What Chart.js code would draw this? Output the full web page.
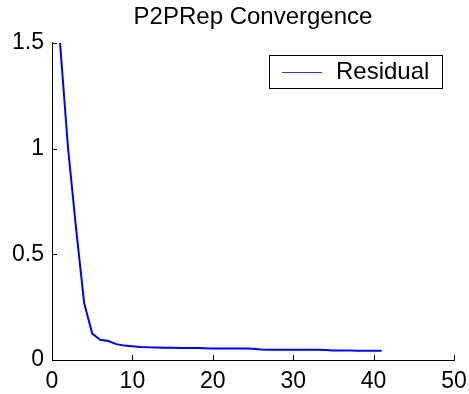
<!DOCTYPE html>
<html lang="en">
<head>
<meta charset="UTF-8">
<title>P2PRep Convergence</title>
<script src="https://cdn.jsdelivr.net/npm/chart.js"></script>
<style>
  body { margin: 0; background: #fff; }
  #wrap { width: 469px; height: 394px; }
</style>
</head>
<body>
<div id="wrap"><canvas id="grafico"></canvas></div>
<script>
// iteration number and residual
const iterations = [1, 2, 3, 4, 5, 6, 7, 8, 9, 10,
                    11, 12, 13, 14, 15, 16, 17, 18, 19, 20,
                    21, 22, 23, 24, 25, 26, 27, 28, 29, 30,
                    31, 32, 33, 34, 35, 36, 37, 38, 39, 40, 41];
const residual = [1.5, 1.0, 0.62, 0.27, 0.125, 0.096, 0.090, 0.075, 0.068, 0.065,
                  0.062, 0.060, 0.059, 0.058, 0.058, 0.057, 0.057, 0.057, 0.055, 0.054,
                  0.054, 0.054, 0.054, 0.054, 0.053, 0.050, 0.049, 0.049, 0.049, 0.049,
                  0.049, 0.049, 0.048, 0.047, 0.045, 0.045, 0.045, 0.044, 0.044, 0.044, 0.044];
const xTicks = [0, 10, 20, 30, 40, 50];
const yTicks = [0, 0.5, 1, 1.5];
const seriesName = 'Residual';
const chartTitle = 'P2PRep Convergence';

const FONT = 'Liberation Sans, Arial, Helvetica, sans-serif';

// matlab style ticks pointing into the plot
const inwardTicks = {
    id: 'inwardTicks',
    afterDatasetsDraw(chart) {
        const { ctx, scales: { x, y } } = chart;
        ctx.save();
        ctx.strokeStyle = '#000';
        ctx.lineWidth = 1;
        ctx.beginPath();
        x.ticks.forEach(t => {
            const px = Math.round(x.getPixelForValue(t.value)) + 0.5;
            ctx.moveTo(px, y.bottom);
            ctx.lineTo(px, y.bottom - 5);
        });
        y.ticks.forEach(t => {
            const py = Math.round(y.getPixelForValue(t.value)) + 0.5;
            ctx.moveTo(x.left, py);
            ctx.lineTo(x.left + 5, py);
        });
        ctx.stroke();
        ctx.restore();
    }
};

// boxed legend inside the plot, top right
const boxLegend = {
    id: 'boxLegend',
    afterDraw(chart) {
        const { ctx, chartArea } = chart;
        const ds = chart.data.datasets[0];
        const w = 173, h = 33;
        const left = Math.round(chartArea.right - 12 - w);
        const top = Math.round(chartArea.top + 12);
        const midY = top + h / 2;
        ctx.save();
        ctx.fillStyle = '#fff';
        ctx.fillRect(left, top, w, h);
        ctx.strokeStyle = '#000';
        ctx.lineWidth = 1;
        ctx.strokeRect(left + 0.5, top + 0.5, w, h);
        ctx.strokeStyle = ds.borderColor;
        ctx.globalAlpha = 0.8;
        ctx.beginPath();
        ctx.moveTo(left + 13, Math.round(midY) + 0.5);
        ctx.lineTo(left + 53, Math.round(midY) + 0.5);
        ctx.stroke();
        ctx.globalAlpha = 1;
        ctx.fillStyle = '#000';
        ctx.font = '24px ' + FONT;
        ctx.textBaseline = 'middle';
        ctx.textAlign = 'left';
        ctx.fillText(ds.label, left + 67, midY + 1);
        ctx.restore();
    }
};

const ctx = document.getElementById('grafico').getContext('2d');
new Chart(ctx, {
    type: 'line',
    data: {
        datasets: [{
            label: seriesName,
            data: iterations.map((it, i) => ({ x: it, y: residual[i] })),
            borderColor: '#0000ff',
            borderWidth: 2,
            pointRadius: 0,
            tension: 0,
            fill: false
        }]
    },
    options: {
        responsive: true,
        maintainAspectRatio: false,
        animation: false,
        layout: { padding: { left: 0, right: 15, top: 0, bottom: 0 } },
        plugins: {
            legend: { display: false },
            tooltip: { enabled: false },
            title: {
                display: true,
                fullSize: false,
                text: chartTitle,
                color: '#000',
                font: { family: FONT, size: 24, weight: 'normal' },
                padding: { top: 3, bottom: 11 }
            }
        },
        scales: {
            x: {
                type: 'linear',
                min: 0,
                max: 50,
                afterBuildTicks: s => { s.ticks = xTicks.map(v => ({ value: v })); },
                afterFit: s => { s.height = 34; s.paddingLeft = 0; s.paddingRight = 0; },
                grid: { display: true, drawOnChartArea: false, drawTicks: false },
                border: { display: true, color: '#000', width: 1 },
                ticks: {
                    color: '#000',
                    padding: 8,
                    maxRotation: 0,
                    font: { family: FONT, size: 23 }
                }
            },
            y: {
                type: 'linear',
                min: 0,
                max: 1.5,
                afterBuildTicks: s => { s.ticks = yTicks.map(v => ({ value: v })); },
                afterFit: s => { s.width = 52; },
                grid: { display: true, drawOnChartArea: false, drawTicks: false },
                border: { display: true, color: '#000', width: 1 },
                ticks: {
                    color: '#000',
                    padding: 8,
                    font: { family: FONT, size: 23 },
                    callback: v => String(v)
                }
            }
        }
    },
    plugins: [inwardTicks, boxLegend]
});
</script>
</body>
</html>
